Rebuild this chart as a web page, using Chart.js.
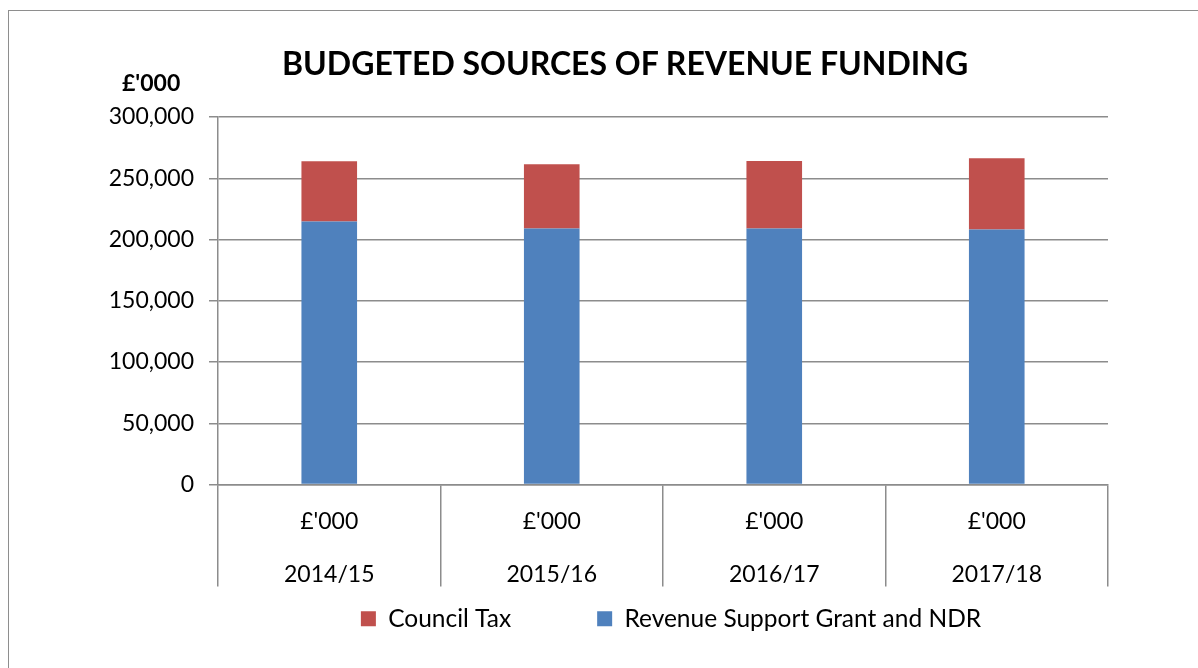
<!DOCTYPE html>
<html>
<head>
<meta charset="utf-8">
<script src="https://cdn.jsdelivr.net/npm/chart.js@4.4.1/dist/chart.umd.min.js"></script>
<style>
  html, body { margin: 0; padding: 0; background: #ffffff; overflow: hidden; }
  #wrap { position: relative; width: 1198px; height: 668px; }
  #frame { position: absolute; left: 8px; top: 10px; width: 1300px; height: 800px;
           border: 1.5px solid #8e8e8e; box-sizing: border-box; }
  #budgetChart { position: absolute; left: 0; top: 0; }
  .txt { position: absolute; font-family: Lato, "Open Sans", sans-serif; color: #000; white-space: nowrap; line-height: 1; }
  #title { left: 282px; top: 47px; font-size: 32px; font-weight: bold; }
  #unit { left: 122px; top: 71px; font-size: 23px; font-weight: bold; }
</style>
</head>
<body>
<div id="wrap">
  <div id="frame"></div>
  <canvas id="budgetChart" width="1198" height="668"></canvas>
  <div id="title" class="txt">BUDGETED SOURCES OF REVENUE FUNDING</div>
  <div id="unit" class="txt">£'000</div>
</div>
<script>
// Budgeted sources of revenue funding (£'000)
var years = ["2014/15", "2015/16", "2016/17", "2017/18"];
var unitLabel = "£'000";
var revenueSupport = [214700, 209000, 209000, 208200];
var councilTax = [49200, 52500, 55000, 58200];
var yTicks = [0, 50000, 100000, 150000, 200000, 250000, 300000];

// legend needs a wide gap between items, so it is laid out tall and moved afterwards
var legendShift = {
    id: "legendShift",
    afterLayout: function (chart) {
        var lg = chart.legend;
        if (!lg) return;
        lg.top -= 66;
        lg.bottom -= 66;
        lg.left += 8;
        lg.right += 8;
    },
};

function initBudgetChart() {
    "use strict";

    var ctx = document.getElementById("budgetChart");
    if (!ctx || typeof Chart === "undefined") {
        console.error("Chart.js or canvas missing");
        return;
    }

    var gridGrey = "#8c8c8c";
    var labels = years.map(function (y) { return [unitLabel, y]; });

    new Chart(ctx.getContext("2d"), {
        type: "bar",
        data: {
            labels: labels,
            datasets: [
                {
                    label: "Revenue Support Grant and NDR",
                    data: revenueSupport,
                    backgroundColor: "#4f81bd",
                    borderWidth: 0,
                },
                {
                    label: "Council Tax",
                    data: councilTax,
                    backgroundColor: "#c0504d",
                    borderWidth: 0,
                },
            ],
        },
        plugins: [legendShift],
        options: {
            responsive: false,
            animation: false,
            categoryPercentage: 1,
            barPercentage: 0.25,
            layout: {
                padding: { left: 108, right: 90, top: 117, bottom: -39 },
            },
            plugins: {
                title: { display: false },
                tooltip: { enabled: false },
                legend: {
                    position: "bottom",
                    fullSize: false,
                    reverse: true,
                    labels: {
                        boxWidth: 15,
                        boxHeight: 15,
                        padding: 86,
                        color: "#000000",
                        font: { family: "Lato", size: 24.5 },
                    },
                },
            },
            scales: {
                x: {
                    stacked: true,
                    afterFit: function (scale) { scale.height = 102; },
                    grid: {
                        offset: true,
                        drawOnChartArea: false,
                        color: gridGrey,
                        lineWidth: 1.5,
                        tickLength: 102,
                    },
                    border: { color: gridGrey, width: 1.5 },
                    ticks: {
                        padding: -91,
                        color: "#000000",
                        font: { family: "Lato", size: 23, lineHeight: 2.3 },
                    },
                },
                y: {
                    stacked: true,
                    min: 0,
                    max: 300000,
                    afterFit: function (scale) { scale.width = 110; },
                    afterBuildTicks: function (scale) {
                        scale.ticks = yTicks.map(function (v) { return { value: v }; });
                    },
                    grid: {
                        color: gridGrey,
                        lineWidth: 1.5,
                        tickLength: 9,
                    },
                    border: { color: gridGrey, width: 1.5 },
                    ticks: {
                        padding: 15,
                        color: "#000000",
                        font: { family: "Lato", size: 23 },
                        callback: function (value) {
                            return value.toLocaleString("en-GB");
                        },
                    },
                },
            },
        },
    });
}

document.addEventListener("DOMContentLoaded", initBudgetChart);
</script>
</body>
</html>
